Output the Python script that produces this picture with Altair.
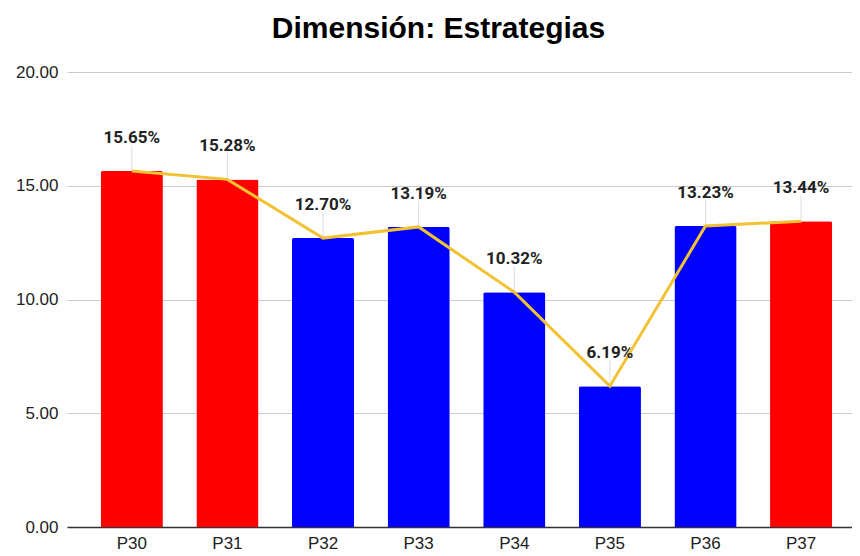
import altair as alt
import pandas as pd

preguntas = ["P30", "P31", "P32", "P33", "P34", "P35", "P36", "P37"]
valores = [15.65, 15.28, 12.70, 13.19, 10.32, 6.19, 13.23, 13.44]
grupo = ["Mayor", "Mayor", "Resto", "Resto", "Resto", "Resto", "Resto", "Mayor"]
y_ticks = [0, 5, 10, 15, 20]

df = pd.DataFrame({"p": preguntas, "v": valores, "g": grupo})

x = alt.X(
    "p:N",
    sort=preguntas,
    scale=alt.Scale(paddingInner=0.35, paddingOuter=0.28, align=0.63),
    axis=alt.Axis(
        title=None, labelAngle=0, labelFont="Liberation Sans", labelFontSize=17,
        labelColor="#222222", domainColor="#333333", domainWidth=1.5,
        ticks=False, labelPadding=8, grid=False,
    ),
)
y = alt.Y(
    "v:Q",
    scale=alt.Scale(domain=[0, 20], nice=False),
    axis=alt.Axis(
        title=None, values=y_ticks, format=".2f", labelFont="Liberation Sans",
        labelFontSize=17, labelColor="#222222", domain=False, ticks=False,
        labelPadding=9, gridColor="#cccccc", gridWidth=1.2,
    ),
)

base = alt.Chart(df)

bars = base.mark_bar(cornerRadiusTopLeft=2, cornerRadiusTopRight=2).encode(
    x=x, y=y,
    color=alt.Color("g:N", scale=alt.Scale(domain=["Mayor", "Resto"], range=["#ff0000", "#0000ff"]), legend=None),
)

leaders = base.mark_rule(color="#dddddd", strokeWidth=1, yOffset=-26, y2Offset=0).encode(
    x=alt.X("p:N", sort=preguntas), y="v:Q", y2="v:Q"
)

line = base.mark_line(color="#f1c232", strokeWidth=3).encode(
    x=alt.X("p:N", sort=preguntas), y="v:Q"
)

labels = base.transform_calculate(
    lbl="format(datum.v, '.2f') + '%'"
).mark_text(
    dy=-28, baseline="alphabetic", font="Roboto", fontWeight="bold", fontSize=17, color="#222222"
).encode(x=alt.X("p:N", sort=preguntas), y="v:Q", text="lbl:N")

chart = alt.layer(bars, leaders, line, labels).properties(
    width=785,
    height=455,
    padding={"left": 59, "top": 64, "right": 0, "bottom": 29},
    autosize=alt.AutoSizeParams(type="none"),
    title=alt.TitleParams(
        "Dimensión: Estrategias", font="Liberation Sans", fontSize=30, fontWeight="bold",
        color="#000000", anchor="middle", baseline="alphabetic", offset=24, dx=-21, dy=29,
    ),
).configure_view(stroke=None)

chart.save("out.html", embed_options={"renderer": "svg", "actions": False})
